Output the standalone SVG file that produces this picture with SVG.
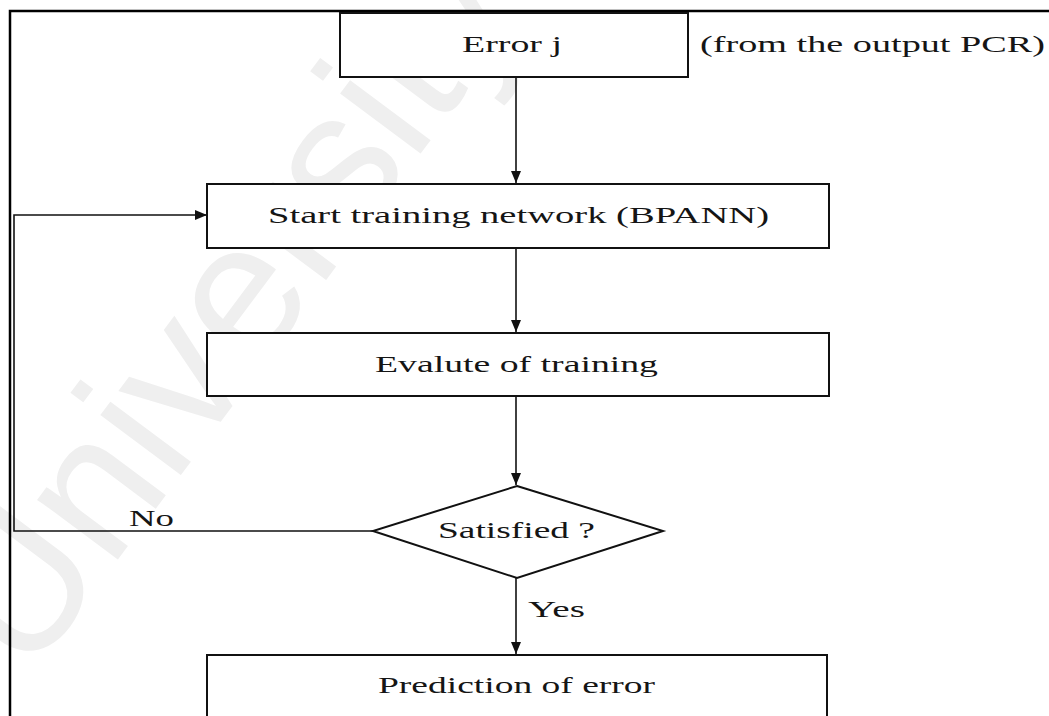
<svg xmlns="http://www.w3.org/2000/svg" width="1049" height="716" viewBox="0 0 1049 716">
  <defs>
    <style>
      .box { fill: #ffffff; stroke: #111111; stroke-width: 2; }
      .wire { fill: none; stroke: #111111; stroke-width: 1.6; }
      .frame { fill: none; stroke: #000000; stroke-width: 2.5; }
      .lbl { font-family: "Liberation Serif", "Times New Roman", serif; font-size: 23px; fill: #151515; }
      .mark { font-family: "Liberation Sans", Arial, sans-serif; font-size: 190px; fill: #efefef; }
    </style>
    <marker id="arrow" viewBox="0 0 12 10" refX="12" refY="5" markerWidth="12" markerHeight="10" markerUnits="userSpaceOnUse" orient="auto">
      <path d="M0,0 L12,5 L0,10 Z" fill="#111111"/>
    </marker>
  </defs>

  <rect width="1049" height="716" fill="#ffffff"/>

  <!-- faint background watermark -->
  <text class="mark" transform="translate(28,680) rotate(-53.3)">University</text>

  <!-- page frame: top rule and left rule -->
  <path class="frame" d="M10,716 L10,11 L1049,11"/>

  <g id="connectors">
    <line class="wire" x1="516" y1="77" x2="516" y2="183" marker-end="url(#arrow)"/>
    <line class="wire" x1="516" y1="248" x2="516" y2="332" marker-end="url(#arrow)"/>
    <line class="wire" x1="516" y1="396" x2="516" y2="485" marker-end="url(#arrow)"/>
    <line class="wire" x1="516" y1="578" x2="516" y2="654" marker-end="url(#arrow)"/>
    <!-- "No" branch loops back to the training step -->
    <polyline class="wire" points="373,531 14,531 14,215 207,215" marker-end="url(#arrow)"/>
    <text class="lbl" x="129" y="526" textLength="45" lengthAdjust="spacingAndGlyphs">No</text>
    <text class="lbl" x="528" y="617" textLength="57" lengthAdjust="spacingAndGlyphs">Yes</text>
  </g>

  <g id="error">
    <rect class="box" x="340" y="13" width="348" height="64"/>
    <text class="lbl" x="462" y="52" textLength="100" lengthAdjust="spacingAndGlyphs">Error j</text>
  </g>

  <g id="source-note">
    <text class="lbl" x="700" y="52" textLength="345" lengthAdjust="spacingAndGlyphs">(from the output PCR)</text>
  </g>

  <g id="start-training">
    <rect class="box" x="207" y="184" width="622" height="64"/>
    <text class="lbl" x="268" y="223" textLength="501" lengthAdjust="spacingAndGlyphs">Start training network (BPANN)</text>
  </g>

  <g id="evaluate">
    <rect class="box" x="207" y="333" width="622" height="63"/>
    <text class="lbl" x="375" y="372" textLength="283" lengthAdjust="spacingAndGlyphs">Evalute of training</text>
  </g>

  <g id="satisfied">
    <polygon class="box" points="517,486 663,531 517,578 373,531"/>
    <text class="lbl" x="438" y="538" textLength="157" lengthAdjust="spacingAndGlyphs">Satisfied ?</text>
  </g>

  <g id="prediction">
    <rect class="box" x="207" y="655" width="620" height="80"/>
    <text class="lbl" x="378" y="693" textLength="277" lengthAdjust="spacingAndGlyphs">Prediction of error</text>
  </g>
</svg>
